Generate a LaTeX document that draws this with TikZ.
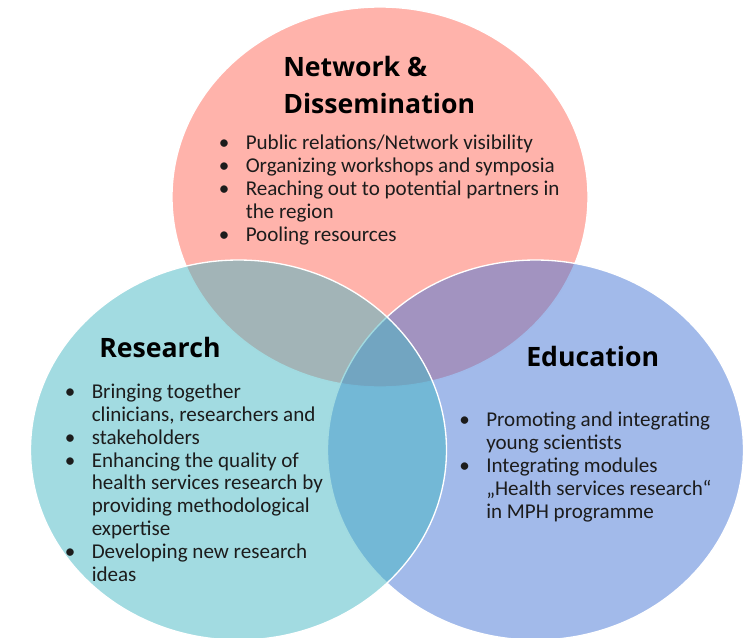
\documentclass[tikz,border=0pt]{standalone}
\usepackage{fontspec}
\setmainfont{Carlito}
\newfontfamily\headfont{Open Sans}
\usetikzlibrary{positioning}
\definecolor{netred}{RGB}{255,103,87}
\definecolor{restea}{RGB}{69,183,195}
\definecolor{edublue}{RGB}{69,117,213}
\definecolor{txtgray}{HTML}{1C1C1C}
\newcommand{\itm}{\makebox[20.25pt][l]{\textbullet}}
\newcommand{\cnt}{\hspace*{20.25pt}}

\begin{document}
\begin{tikzpicture}[
  x=0.75pt, y=-0.75pt,
  setfill/.style = {draw=white, line width=1pt, fill=#1, fill opacity=0.5},
  settitle/.style = {font=\headfont\bfseries\fontsize{20}{27.5}\selectfont,
                     align=left, inner sep=0pt, anchor=base west},
  setitems/.style = {font=\fontsize{15.8}{17.2}\selectfont, text=txtgray,
                     align=left, inner sep=0pt, anchor=base west},
]
\useasboundingbox (0,0) rectangle (753,637);
\clip (0,0) rectangle (753,637);
\coordinate (net) at (380,197);
\coordinate (edu) at (535.5,450);
\coordinate (res) at (238.5,450);
\draw[setfill=netred]  (net) ellipse [x radius=208, y radius=190];
\draw[setfill=edublue] (edu) ellipse [x radius=208, y radius=190];
\draw[setfill=restea]  (res) ellipse [x radius=208, y radius=190];

% base anchor sits on the last line
\node[settitle] (nettitle) at (283,113.3) {Network \&\\Dissemination};
\node[setitems] (netlist) at (218.5,241.7)
    {\itm Public relations/Network visibility\\
     \itm Organizing workshops and symposia\\
     \itm Reaching out to potential partners in\\
     \cnt the region\\
     \itm Pooling resources};

\node[settitle] (restitle) at (99,357.3) {Research};
\node[setitems] (reslist) at (64.5,581.7)
    {\itm Bringing together\\
     \cnt clinicians, researchers and\\
     \itm stakeholders\\
     \itm Enhancing the quality of\\
     \cnt health services research by\\
     \cnt providing methodological\\
     \cnt expertise\\
     \itm Developing new research\\
     \cnt ideas};

\node[settitle] (edutitle) at (526,366) {Education};
\node[setitems] (edulist) at (459,518.3)
    {\itm Promoting and integrating\\
     \cnt young scientists\\
     \itm Integrating modules\\
     \cnt „Health services research“\\
     \cnt in MPH programme};
\end{tikzpicture}
\end{document}
